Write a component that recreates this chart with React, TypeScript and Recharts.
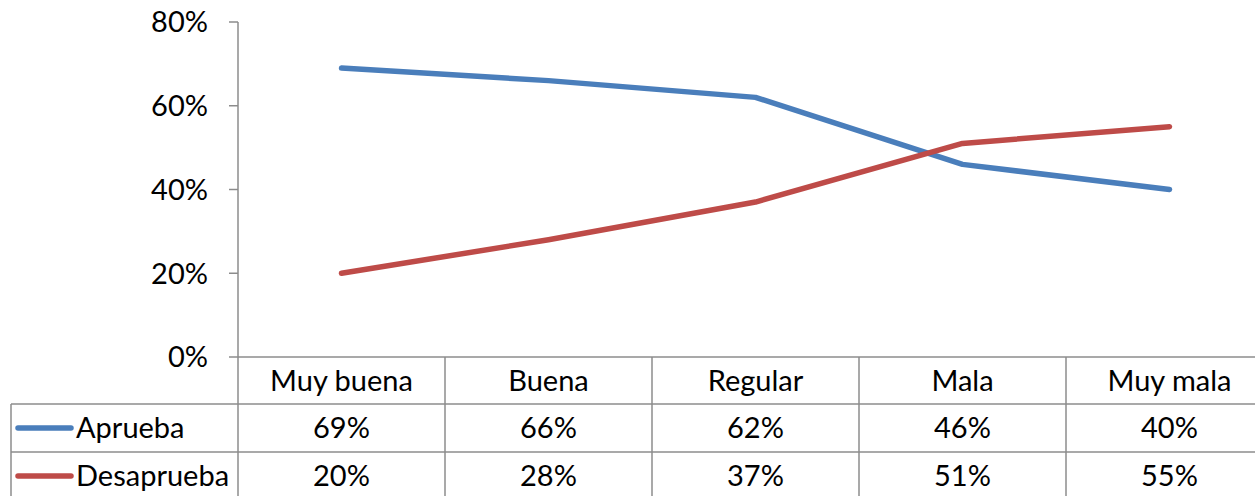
import React from "react";
import { LineChart, Line, XAxis, YAxis } from "recharts";

const categories = ["Muy buena", "Buena", "Regular", "Mala", "Muy mala"];
const aprueba = [0.69, 0.66, 0.62, 0.46, 0.4];
const desaprueba = [0.2, 0.28, 0.37, 0.51, 0.55];
const seriesNames = ["Aprueba", "Desaprueba"];
const yTicks = [0, 0.2, 0.4, 0.6, 0.8];

const COLOURS = ["#4A7EBB", "#BE4B48"];
const GRID = "#8C8C8C";
const FONT = "Lato, 'Open Sans', sans-serif";
const FONT_SIZE = 29;

const CHART_W = 1300;
const CHART_H = 496;
const LEFT = 238;
const RIGHT = 27;
const TOP = 22;
const AXIS_Y = 357;
const ROW1 = 404;
const ROW2 = 452;
const BAND = (CHART_W - LEFT - RIGHT) / categories.length;

const data = categories.map((name, i) => ({
  name,
  aprueba: aprueba[i],
  desaprueba: desaprueba[i],
}));

const pct = (v: number) => `${Math.round(v * 100)}%`;

// each x tick draws one column of the data table under the plot
function TableTick(props: any) {
  const { x, payload } = props;
  const i = payload.index;
  const rows = [
    { y: (AXIS_Y + ROW1) / 2, text: categories[i] },
    { y: (ROW1 + ROW2) / 2, text: pct(aprueba[i]) },
    { y: ROW2 + 24, text: pct(desaprueba[i]) },
  ];
  return (
    <g>
      {i === 0 && (
        <line x1={x - BAND / 2} x2={x - BAND / 2} y1={AXIS_Y} y2={CHART_H} stroke={GRID} strokeWidth={1.5} />
      )}
      <line x1={x + BAND / 2} x2={x + BAND / 2} y1={AXIS_Y} y2={CHART_H} stroke={GRID} strokeWidth={1.5} />
      {rows.map((r, k) => (
        <text
          key={k}
          x={x}
          y={r.y}
          dy="0.36em"
          textAnchor="middle"
          fontFamily={FONT}
          fontSize={FONT_SIZE}
          fill="#000"
        >
          {r.text}
        </text>
      ))}
    </g>
  );
}

export default function App() {
  const legendRows = [(ROW1 + ROW2) / 2, ROW2 + 24];
  return (
    <div
      style={{
        position: "fixed",
        left: 0,
        top: 0,
        width: 1255,
        height: 496,
        overflow: "hidden",
        background: "#fff",
      }}
    >
      <LineChart
        width={CHART_W}
        height={CHART_H}
        data={data}
        margin={{ top: TOP, right: RIGHT, bottom: 0, left: 0 }}
      >
        <XAxis
          dataKey="name"
          height={CHART_H - AXIS_Y}
          interval={0}
          padding={{ left: BAND / 2, right: BAND / 2 }}
          axisLine={{ stroke: GRID, strokeWidth: 1.5 }}
          tickLine={false}
          tickSize={0}
          tick={<TableTick />}
        />
        <YAxis
          width={LEFT}
          domain={[0, 0.8]}
          ticks={yTicks}
          tickFormatter={pct}
          axisLine={{ stroke: GRID, strokeWidth: 1.5 }}
          tickLine={{ stroke: GRID, strokeWidth: 1.5 }}
          tickSize={9}
          tickMargin={21}
          tick={{ fill: "#000", fontSize: FONT_SIZE, fontFamily: FONT }}
        />
        <Line
          dataKey="aprueba"
          name={seriesNames[0]}
          stroke={COLOURS[0]}
          strokeWidth={5.5}
          strokeLinecap="round"
          strokeLinejoin="round"
          dot={false}
          isAnimationActive={false}
        />
        <Line
          dataKey="desaprueba"
          name={seriesNames[1]}
          stroke={COLOURS[1]}
          strokeWidth={5.5}
          strokeLinecap="round"
          strokeLinejoin="round"
          dot={false}
          isAnimationActive={false}
        />
      </LineChart>
      {/* left side of the data table: borders, legend keys and series names */}
      <svg
        width={1255}
        height={496}
        style={{ position: "absolute", left: 0, top: 0, pointerEvents: "none" }}
      >
        <line x1={11} x2={1255} y1={ROW1} y2={ROW1} stroke={GRID} strokeWidth={1.5} />
        <line x1={11} x2={1255} y1={ROW2} y2={ROW2} stroke={GRID} strokeWidth={1.5} />
        <line x1={11} x2={11} y1={ROW1} y2={496} stroke={GRID} strokeWidth={1.5} />
        {seriesNames.map((name, i) => (
          <g key={name}>
            <line
              x1={18}
              x2={71}
              y1={legendRows[i]}
              y2={legendRows[i]}
              stroke={COLOURS[i]}
              strokeWidth={5.5}
              strokeLinecap="round"
            />
            <text
              x={76}
              y={legendRows[i]}
              dy="0.36em"
              fontFamily={FONT}
              fontSize={FONT_SIZE}
              fill="#000"
            >
              {name}
            </text>
          </g>
        ))}
      </svg>
    </div>
  );
}
